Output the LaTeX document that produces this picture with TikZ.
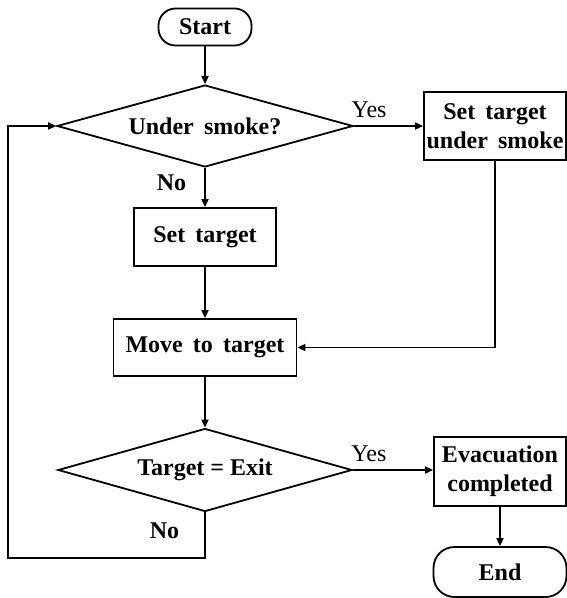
\documentclass[tikz,border=0pt]{standalone}
\usepackage{fontspec}
\setmainfont{Liberation Serif}
\newfontfamily\flowfont[WordSpace=1.7]{Liberation Serif}
\usetikzlibrary{shapes.geometric,arrows.meta}
\newcommand{\flowtext}{\flowfont\bfseries\fontsize{24}{29}\selectfont}

\begin{document}
\begin{tikzpicture}[x=1pt,y=-1pt,line width=1.8pt,
  terminal/.style={draw,rounded corners=17pt,inner sep=0pt,font=\flowtext,align=center},
  process/.style={draw,inner sep=0pt,font=\flowtext,align=center},
  decision/.style={draw,diamond,aspect=3.6,inner sep=0pt,font=\flowtext},
  flow/.style={-{Triangle[length=8pt,width=7pt]}},
  answer/.style={font=\fontsize{24}{24}\selectfont,inner sep=0pt}]
  \useasboundingbox (0,0) rectangle (567,598);
  \node[terminal,minimum width=93pt,minimum height=37pt] (start) at (205,27) {Start};
  \node[decision,minimum width=296pt,minimum height=82pt] (smoke) at (205,126) {Under smoke?};
  \node[process,minimum width=142pt,minimum height=68pt] (settgtsmoke) at (495,126) {Set target\\under smoke};
  \node[process,minimum width=142pt,minimum height=58pt] (settgt) at (205,237) {Set target};
  \node[process,minimum width=183pt,minimum height=57pt] (move) at (205,347.5) {Move to target};
  \node[decision,minimum width=294pt,minimum height=83pt,font=\bfseries\fontsize{24}{29}\selectfont] (isexit) at (205,470) {Target = Exit};
  \node[process,minimum width=132pt,minimum height=69pt] (evac) at (500,471.5) {Evacuation\\completed};
  \node[terminal,minimum width=133pt,minimum height=50pt,rounded corners=21pt] (end) at (500,572) {End};
  \coordinate (loop) at (8,558);
  \draw[flow] (start) -- (smoke);
  \draw[flow] (smoke.east) -- node[answer,pos=0.22,above=7pt] {Yes} (settgtsmoke.west);
  \draw[flow] (smoke.south) -- node[answer,pos=0.38,left=18pt,font=\fontsize{24}{24}\selectfont\bfseries] {No} (settgt.north);
  \draw[flow] (settgt) -- (move);
  \draw[flow] (settgtsmoke.south) |- (move.east);
  \draw[flow] (move) -- (isexit);
  \draw[flow] (isexit.east) -- node[answer,pos=0.2,above=7pt] {Yes} (isexit.east -| evac.west);
  \draw[flow] (evac) -- (end);
  \draw[flow] (isexit.south) |- node[answer,pos=0.2,left=25pt,font=\fontsize{24}{24}\selectfont\bfseries] {No} (loop) |- (smoke.west);
\end{tikzpicture}
\end{document}
